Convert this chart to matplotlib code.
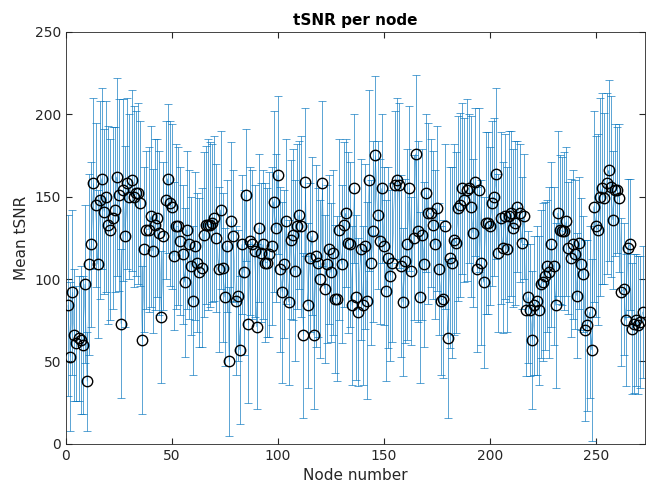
import numpy as np
import matplotlib
matplotlib.use('Agg')
import matplotlib.pyplot as plt

# mean tSNR per node
mean_tsnr = [
    84, 53, 92, 66, 61, 64, 63, 60, 97, 38, 109, 121, 158, 145, 109, 148, 161, 141, 150, 133,
    130, 137, 142, 162, 151, 73, 154, 126, 158, 150, 160, 150, 152, 152, 146, 63, 118, 130, 130, 138,
    117, 133, 137, 128, 77, 126, 148, 161, 146, 144, 114, 132, 132, 123, 115, 98, 130, 121, 108, 87,
    120, 110, 104, 107, 127, 133, 133, 133, 134, 137, 125, 106, 142, 107, 89, 120, 50, 135, 126, 87,
    90, 57, 121, 104, 151, 73, 123, 121, 117, 71, 131, 116, 121, 110, 110, 115, 120, 147, 131, 163,
    106, 92, 109, 135, 86, 124, 127, 105, 132, 139, 132, 66, 159, 84, 113, 126, 66, 114, 110, 100,
    158, 94, 109, 118, 104, 116, 88, 88, 130, 109, 133, 140, 122, 121, 84, 155, 89, 80, 118, 84,
    120, 87, 160, 110, 129, 175, 139, 123, 155, 120, 93, 113, 102, 110, 157, 160, 157, 108, 86, 111,
    121, 155, 105, 125, 176, 129, 89, 127, 109, 152, 140, 140, 133, 121, 143, 106, 87, 88, 132, 64,
    113, 110, 124, 122, 143, 145, 155, 148, 154, 155, 144, 128, 159, 106, 154, 110, 98, 134, 134, 132,
    146, 150, 164, 116, 137, 119, 138, 118, 138, 140, 131, 134, 144, 140, 122, 138, 81, 89, 81, 63,
    84, 87, 81, 97, 98, 102, 108, 104, 121, 108, 84, 140, 130, 129, 129, 135, 119, 113, 121, 115,
    90, 122, 109, 103, 69, 72, 80, 57, 144, 132, 130, 150, 155, 149, 158, 166, 156, 136, 154, 154,
    149, 92, 94, 75, 119, 121, 70, 73, 75, 72, 74, 80,
]

# error bar half-lengths (std across time)
err_tsnr = [
    55, 45, 50, 40, 35, 38, 45, 42, 48, 30, 55, 50, 52, 50, 45, 60, 55, 50, 58, 60,
    55, 55, 50, 60, 58, 45, 55, 55, 52, 50, 55, 55, 50, 55, 50, 45, 50, 48, 50, 55,
    50, 52, 48, 50, 40, 45, 48, 45, 50, 50, 45, 50, 48, 45, 42, 45, 48, 45, 42, 45,
    45, 42, 45, 48, 50, 48, 52, 50, 48, 50, 45, 50, 48, 45, 42, 40, 45, 48, 40, 45,
    40, 45, 42, 50, 40, 48, 45, 45, 40, 50, 45, 42, 45, 48, 45, 50, 48, 55, 45, 48,
    50, 55, 45, 50, 50, 48, 52, 55, 50, 45, 55, 50, 45, 50, 45, 48, 45, 55, 45, 48,
    50, 45, 48, 45, 42, 50, 45, 50, 55, 48, 50, 45, 55, 50, 48, 45, 50, 45, 55, 48,
    50, 60, 55, 50, 55, 48, 45, 50, 45, 48, 55, 55, 52, 48, 45, 50, 50, 55, 45, 50,
    58, 50, 45, 50, 48, 55, 52, 52, 50, 48, 55, 45, 45, 45, 50, 40, 45, 48, 50, 48,
    55, 58, 58, 55, 56, 56, 52, 50, 55, 45, 55, 45, 45, 50, 50, 50, 52, 55, 55, 48,
    50, 48, 52, 48, 52, 52, 50, 50, 52, 50, 48, 50, 40, 42, 40, 38, 40, 40, 40, 42,
    42, 45, 45, 45, 48, 45, 40, 52, 50, 48, 50, 50, 45, 45, 48, 45, 40, 48, 45, 45,
    38, 40, 40, 35, 55, 52, 52, 55, 58, 55, 58, 60, 58, 52, 55, 55, 55, 42, 40, 38,
    45, 45, 40, 40, 42, 40, 40, 42, 40, 42, 40, 40,
]

nodes = np.arange(1, len(mean_tsnr) + 1)
blue = '#0072BD'
dark = '#262626'

fig = plt.figure(figsize=(6.46, 4.83), dpi=100)
ax = fig.add_axes([0.102, 0.081, 0.896, 0.853])

ax.errorbar(nodes, mean_tsnr, yerr=err_tsnr, color=blue, ecolor=blue,
            elinewidth=0.5, linewidth=0.3, capsize=3, capthick=0.5,
            alpha=0.9, zorder=2)
ax.plot(nodes, mean_tsnr, 'o', markerfacecolor='none', markeredgecolor='black',
        markersize=7.5, markeredgewidth=1.0, zorder=3)

ax.set_xlim(0, 273)
ax.set_ylim(0, 250)
ax.set_xticks(range(0, 251, 50))
ax.set_yticks(range(0, 251, 50))
ax.tick_params(direction='in', length=4, colors=dark, labelsize=10,
               top=True, right=True)
for s in ax.spines.values():
    s.set_color(dark)
    s.set_linewidth(0.6)

ax.set_title('tSNR per node', fontsize=11, fontweight='bold', pad=5)
ax.set_xlabel('Node number', fontsize=11, color=dark, labelpad=4)
ax.set_ylabel('Mean tSNR', fontsize=11, color=dark)

fig.savefig('out.png', dpi=100)
